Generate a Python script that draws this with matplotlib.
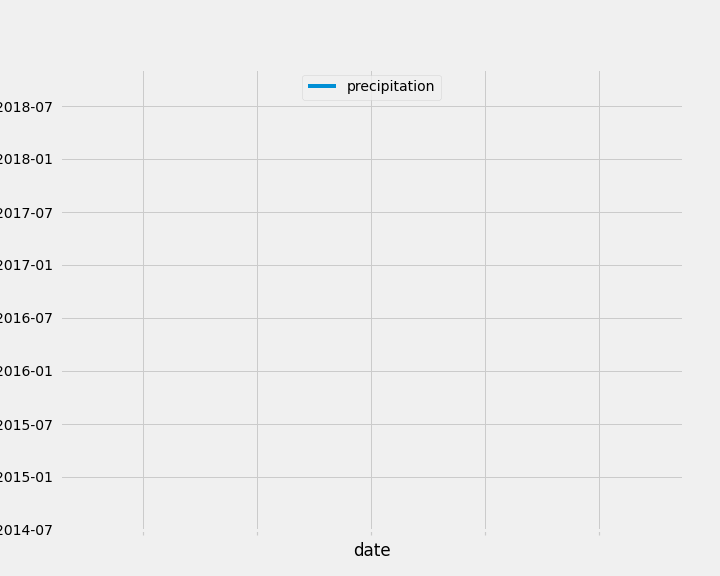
import matplotlib
matplotlib.use('Agg')
import matplotlib.pyplot as plt
import matplotlib.dates as mdates
from datetime import datetime

plt.style.use('fivethirtyeight')

# the series in the reference shows no visible points
dates = []
precipitation = []

x_ticks = [0, 1, 2, 3, 4]
x_range = [-0.728, 4.737]
y_range = [datetime(2014, 7, 1), datetime(2018, 11, 6)]

fig = plt.figure(figsize=(10, 8), dpi=72)
ax = fig.add_axes([60 / 720, 1 - 530 / 576, 623 / 720, 461 / 576])

ax.plot(dates, precipitation, label='precipitation')
ax.yaxis_date()
ax.set_ylim(y_range)
ax.yaxis.set_major_locator(mdates.MonthLocator(bymonth=[1, 7]))
ax.yaxis.set_major_formatter(mdates.DateFormatter('%Y-%m'))

ax.set_xlim(x_range)
ax.set_xticks(x_ticks)
ax.set_xticklabels([''] * len(x_ticks))
ax.tick_params(axis='x', length=5, width=1.2, color='#cbcbcb')
ax.tick_params(axis='y', labelsize=14, pad=7)
ax.set_xlabel('date', fontsize=16.8)

ax.legend(loc='upper center', fontsize=14, borderaxespad=0.4)

plt.savefig('out.png', dpi=72)
